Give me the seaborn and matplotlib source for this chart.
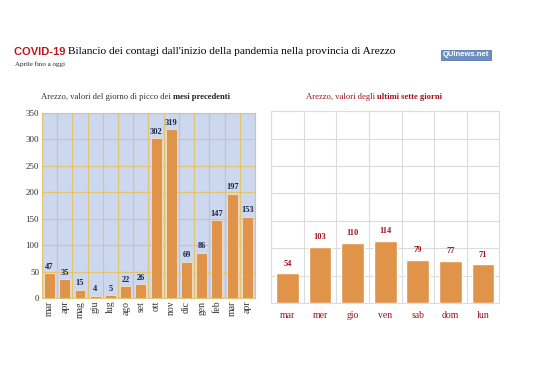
import numpy as np
import matplotlib
matplotlib.use("Agg")
import matplotlib.pyplot as plt
import seaborn as sns

# data
mesi = ["mar", "apr", "mag", "giu", "lug", "ago", "set", "ott", "nov", "dic", "gen", "feb", "mar", "apr"]
picchi = [47, 35, 15, 4, 5, 22, 26, 302, 319, 69, 86, 147, 197, 153]
giorni = ["mar", "mer", "gio", "ven", "sab", "dom", "lun"]
casi_giorno = [54, 103, 110, 114, 79, 77, 71]

sns.set_style("white")
plt.rcParams["font.family"] = ["Liberation Serif", "DejaVu Serif"]

orange = "#e0944a"
navy = "#1c2541"
darkred = "#a3111b"

fig = plt.figure(figsize=(5.38, 3.8), dpi=100)

# left chart: peak of previous months
ax1 = fig.add_axes([0.078, 0.2158, 0.396, 0.487])
ax1.set_facecolor("#cbd8f0")
sns.barplot(x=np.arange(len(mesi)), y=picchi, color=orange, width=0.72,
            edgecolor="#f3e2c8", linewidth=0.6, saturation=1, ax=ax1)
ax1.set_ylim(0, 350)
ax1.set_xlim(-0.5, len(mesi) - 0.5)
ax1.set_yticks(range(0, 351, 50))
ax1.set_xticks(np.arange(len(mesi)))
ax1.set_xticklabels(mesi, rotation=90, fontsize=7, color="#333333")
ax1.tick_params(axis="y", labelsize=6.5, labelcolor="#333333", pad=2, length=0)
ax1.tick_params(axis="x", pad=2, length=0)
for v in range(0, 351, 50):
    ax1.axhline(v, color="#e3c46e", lw=0.8, zorder=0)
for b in np.arange(len(mesi) + 1) - 0.5:
    ax1.axvline(b, color="#e3c46e", lw=0.8, zorder=0)
for s in ax1.spines.values():
    s.set_color("#e3c46e")
    s.set_linewidth(0.8)
ax1.set_xlabel("")
for i, v in enumerate(picchi):
    ax1.text(i, v + 5, str(v), ha="center", va="bottom", fontsize=6,
             fontweight="bold", color=navy)

# right chart: last seven days
ax2 = fig.add_axes([0.504, 0.2026, 0.424, 0.505])
sns.barplot(x=giorni, y=casi_giorno, color=orange, width=0.7, saturation=1, ax=ax2)
ax2.set_ylim(0, 350)
ax2.set_xlim(-0.5, len(giorni) - 0.5)
ax2.set_yticks(range(0, 351, 50))
ax2.set_yticklabels([])
ax2.tick_params(axis="y", length=0)
ax2.tick_params(axis="x", length=0, labelsize=7, labelcolor=darkred, pad=6)
for v in range(0, 351, 50):
    ax2.axhline(v, color="#dcdcdc", lw=0.8, zorder=0)
for b in np.arange(len(giorni) + 1) - 0.5:
    ax2.axvline(b, color="#dcdcdc", lw=0.8, zorder=0)
for s in ax2.spines.values():
    s.set_color("#dcdcdc")
    s.set_linewidth(0.8)
ax2.set_xlabel("")
for i, v in enumerate(casi_giorno):
    ax2.text(i, v + 10, str(v), ha="center", va="bottom", fontsize=6,
             fontweight="bold", color=darkred)


def text_pair(x, y, parts, ha="left"):
    # draw consecutive text pieces on one line
    fig.canvas.draw()
    r = fig.canvas.get_renderer()
    W = fig.bbox.width
    widths = []
    objs = []
    for s, kw in parts:
        t = fig.text(0, 0, s, **kw)
        widths.append(t.get_window_extent(r).width / W)
        objs.append(t)
    total = sum(widths)
    x0 = x - total / 2 if ha == "center" else x
    for t, w in zip(objs, widths):
        t.set_position((x0, y))
        t.set_va("center")
        x0 += w


text_pair(14 / 538, 1 - 52 / 380, [
    ("COVID-19 ", dict(fontsize=8, fontweight="bold", color="#c0141c",
                       family=["Liberation Sans", "DejaVu Sans"])),
    ("Bilancio dei contagi dall'inizio della pandemia nella provincia di Arezzo",
     dict(fontsize=8.2, color="black")),
])
fig.text(15 / 538, 1 - 64 / 380, "Aprile fino a oggi", fontsize=5, va="center")

text_pair(136 / 538, 1 - 97 / 380, [
    ("Arezzo, valori del giorno di picco dei ", dict(fontsize=6.2, color="#333333")),
    ("mesi precedenti", dict(fontsize=6.2, fontweight="bold", color="#222222")),
], ha="center")
text_pair(374 / 538, 1 - 97 / 380, [
    ("Arezzo, valori degli ", dict(fontsize=6.2, color=darkred)),
    ("ultimi sette giorni", dict(fontsize=6.2, fontweight="bold", color=darkred)),
], ha="center")

# logo
fig.text(466 / 538, 1 - 55 / 380, "QUInews.net", fontsize=5.5, fontweight="bold",
         color="white", ha="center", va="center",
         family=["Liberation Sans", "DejaVu Sans"],
         bbox=dict(boxstyle="square,pad=0.25", fc="#6d8fc4", ec="#4a6a9c", lw=0.5))

fig.savefig("out.png", dpi=100)
